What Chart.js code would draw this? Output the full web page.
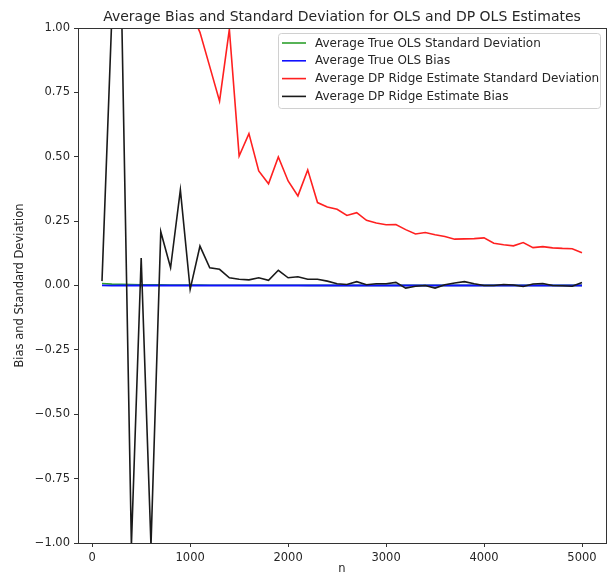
<!DOCTYPE html>
<html>
<head>
<meta charset="utf-8">
<script src="https://cdn.jsdelivr.net/npm/chart.js@4.4.0/dist/chart.umd.min.js"></script>
<style>
  html, body { margin: 0; padding: 0; background: #fff; }
  #wrap { width: 607px; height: 576px; position: relative; }
</style>
</head>
<body>
<div id="wrap"><canvas id="biasChart" width="607" height="576"></canvas></div>
<script>
// sample sizes
const nValues = [100, 200, 300, 400, 500, 600, 700, 800, 900, 1000,
  1100, 1200, 1300, 1400, 1500, 1600, 1700, 1800, 1900, 2000,
  2100, 2200, 2300, 2400, 2500, 2600, 2700, 2800, 2900, 3000,
  3100, 3200, 3300, 3400, 3500, 3600, 3700, 3800, 3900, 4000,
  4100, 4200, 4300, 4400, 4500, 4600, 4700, 4800, 4900, 5000];

const olsStd = [0.0075, 0.0055, 0.0045, 0.0038, 0.0032, 0.0027, 0.0023, 0.002, 0.0017, 0.0015,
  0.0013, 0.0012, 0.0011, 0.001, 0.0009, 0.0009, 0.0008, 0.0008, 0.0007, 0.0007,
  0.0007, 0.0006, 0.0006, 0.0006, 0.0006, 0.0005, 0.0005, 0.0005, 0.0005, 0.0005,
  0.0005, 0.0004, 0.0004, 0.0004, 0.0004, 0.0004, 0.0004, 0.0004, 0.0004, 0.0004,
  0.0003, 0.0003, 0.0003, 0.0003, 0.0003, 0.0003, 0.0003, 0.0003, 0.0003, 0.0003];

const olsBias = [0.0004, -0.0003, 0.0002, 0.0001, -0.0002, 0.0003, -0.0001, 0.0002, 0.0001, -0.0002,
  0.0001, 0.0001, -0.0001, 0.0002, 0.0000, -0.0001, 0.0001, 0.0000, 0.0001, -0.0001,
  0.0000, 0.0001, 0.0000, -0.0001, 0.0001, 0.0000, 0.0000, 0.0001, -0.0001, 0.0000,
  0.0000, 0.0001, 0.0000, 0.0000, -0.0001, 0.0000, 0.0001, 0.0000, 0.0000, 0.0000,
  0.0001, 0.0000, 0.0000, -0.0001, 0.0000, 0.0000, 0.0000, 0.0001, 0.0000, 0.0000];

const dpStd = [9.8, 5.2, 3.6, 2.9, 2.4, 2.0, 1.7, 1.45, 1.25, 1.07,
  0.983, 0.85, 0.716, 0.995, 0.503, 0.59, 0.445, 0.395, 0.499, 0.406,
  0.348, 0.449, 0.322, 0.305, 0.296, 0.272, 0.283, 0.253, 0.243, 0.236,
  0.237, 0.217, 0.2, 0.206, 0.197, 0.19, 0.18, 0.181, 0.182, 0.185,
  0.164, 0.158, 0.154, 0.167, 0.147, 0.151, 0.146, 0.144, 0.143, 0.127];

const dpBias = [0.017, 1.04, 1.08, -1.01, 0.107, -1.01, 0.209, 0.069, 0.371, -0.015,
  0.153, 0.069, 0.063, 0.03, 0.024, 0.022, 0.03, 0.02, 0.059, 0.03,
  0.034, 0.024, 0.024, 0.017, 0.007, 0.004, 0.015, 0.003, 0.007, 0.007,
  0.012, -0.01, -0.003, 0.0, -0.01, 0.003, 0.01, 0.015, 0.007, 0.0,
  0.0, 0.004, 0.002, -0.004, 0.006, 0.008, 0.0, -0.001, -0.003, 0.012];

const xTicks = [0, 1000, 2000, 3000, 4000, 5000];
const yTicks = [-1, -0.75, -0.5, -0.25, 0, 0.25, 0.5, 0.75, 1];

const seriesNames = [
  'Average True OLS Standard Deviation',
  'Average True OLS Bias',
  'Average DP Ridge Estimate Standard Deviation',
  'Average DP Ridge Estimate Bias'
];
const seriesColors = ['#2ca02c', '#1010ff', '#ff2020', '#1a1a1a'];
const seriesValues = [olsStd, olsBias, dpStd, dpBias];

const TITLE = 'Average Bias and Standard Deviation for OLS and DP OLS Estimates';
const FONT = "'DejaVu Sans', sans-serif";
const AXIS = '#333333';
const TEXT = '#262626';

function points(vals) {
  return nValues.map((n, i) => ({ x: n, y: vals[i] }));
}

// title centred over the plot, box around it, legend in the upper right
const framePlugin = {
  id: 'frame',
  afterDraw(chart) {
    const ctx = chart.ctx;
    const a = chart.chartArea;
    ctx.save();
    ctx.fillStyle = TEXT;
    ctx.font = '14px ' + FONT;
    ctx.textAlign = 'center';
    ctx.textBaseline = 'alphabetic';
    ctx.fillText(TITLE, (a.left + a.right) / 2, 21);

    ctx.strokeStyle = AXIS;
    ctx.lineWidth = 1;
    ctx.strokeRect(Math.round(a.left) + 0.5, Math.round(a.top) + 0.5,
      Math.round(a.right - a.left), Math.round(a.bottom - a.top));

    const bx = 278.5, by = 33.5, bw = 322, bh = 75;
    ctx.fillStyle = 'rgba(255,255,255,0.8)';
    ctx.strokeStyle = '#d0d0d0';
    ctx.beginPath();
    ctx.roundRect(bx, by, bw, bh, 3);
    ctx.fill();
    ctx.stroke();

    ctx.font = '12px ' + FONT;
    ctx.textAlign = 'left';
    ctx.textBaseline = 'middle';
    seriesNames.forEach((name, i) => {
      const y = 43 + i * 17.8;
      ctx.strokeStyle = seriesColors[i];
      ctx.lineWidth = 1.6;
      ctx.beginPath();
      ctx.moveTo(282, y);
      ctx.lineTo(306, y);
      ctx.stroke();
      ctx.fillStyle = TEXT;
      ctx.fillText(name, 315, y + 0.5);
    });
    ctx.restore();
  }
};

new Chart(document.getElementById('biasChart'), {
  type: 'line',
  data: {
    datasets: seriesNames.map((name, i) => ({
      label: name,
      data: points(seriesValues[i]),
      borderColor: seriesColors[i],
      borderWidth: i === 1 ? 1.9 : 1.6,
      pointRadius: 0,
      tension: 0,
      fill: false,
      order: 3 - i
    }))
  },
  options: {
    responsive: false,
    animation: false,
    layout: { padding: { top: 28, right: 1, bottom: 0, left: 0 } },
    plugins: {
      legend: { display: false },
      tooltip: { enabled: false },
      title: { display: false }
    },
    scales: {
      x: {
        type: 'linear',
        min: -145,
        max: 5245,
        afterBuildTicks: s => { s.ticks = xTicks.map(v => ({ value: v })); },
        afterFit: s => { s.height = 33; },
        grid: { drawOnChartArea: false, drawTicks: true, tickLength: 4, color: AXIS },
        border: { display: false },
        ticks: {
          color: TEXT, font: { family: FONT, size: 11.5 }, padding: 4,
          maxRotation: 0, callback: v => String(v)
        },
        title: { display: true, text: 'n', color: TEXT, font: { family: FONT, size: 11.5 }, padding: { top: 0, bottom: 0 } }
      },
      y: {
        min: -1,
        max: 1,
        afterBuildTicks: s => { s.ticks = yTicks.map(v => ({ value: v })); },
        afterFit: s => { s.width = 78; },
        grid: { drawOnChartArea: false, drawTicks: true, tickLength: 4, color: AXIS },
        border: { display: false },
        ticks: {
          color: TEXT, font: { family: FONT, size: 11.5 }, padding: 4,
          callback: v => v.toFixed(2).replace('-', '\u2212')
        },
        title: { display: true, text: 'Bias and Standard Deviation', color: TEXT, font: { family: FONT, size: 11.5 }, padding: { top: 13, bottom: 0 } }
      }
    }
  },
  plugins: [framePlugin]
});
</script>
</body>
</html>
